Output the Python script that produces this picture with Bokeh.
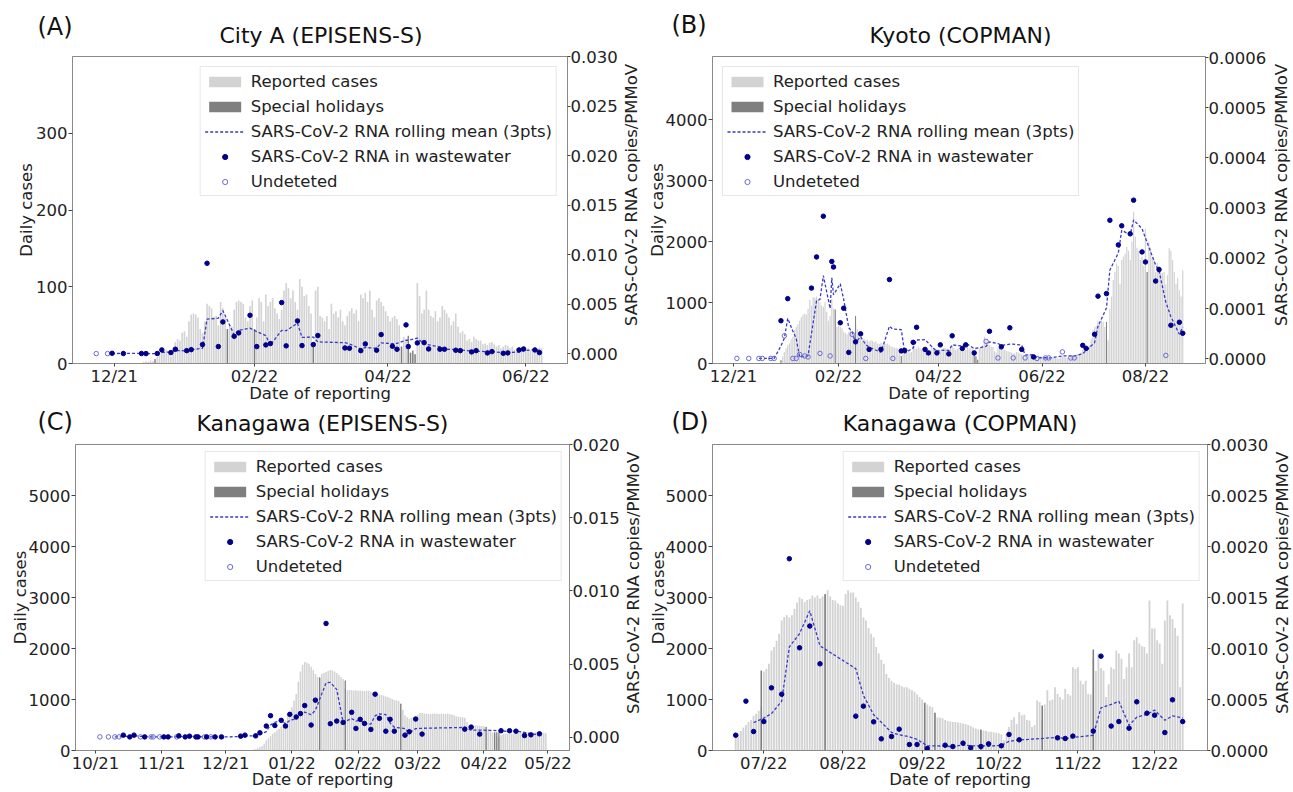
import pandas as pd
from math import pi
from bokeh.plotting import figure
from bokeh.models import (Range1d, LinearAxis, FixedTicker, PrintfTickFormatter,
                          DatetimeTickFormatter, Legend, LegendItem)
from bokeh.core.properties import value
from bokeh.layouts import row, column
from bokeh.embed import file_html
from bokeh.resources import INLINE

# ---------------------------------------------------------------- data
# (A) City A (EPISENS-S) ; RNA values in units of 1e-3
A_cases_start = "2021-12-14"
A_cases = [2, 3, 2, 4, 3, 2, 8,
           12, 15, 14, 18, 12, 9, 20,
           28, 32, 30, 40, 42, 35, 55,
           64, 65, 64, 60, 45, 40, 55,
           78, 75, 72, 60, 62, 50, 80,
           72, 60, 45, 50, 48, 70, 80,
           82, 80, 78, 60, 55, 75, 82,
           45, 60, 85, 80, 55, 90, 75,
           80, 85, 72, 65, 58, 70, 95,
           105, 98, 85, 95, 80, 70, 110,
           100, 88, 90, 75, 65, 23, 95,
           100, 62, 60, 55, 62, 45, 78,
           65, 68, 60, 70, 55, 50, 62,
           68, 72, 65, 70, 55, 90, 85,
           92, 80, 95, 70, 60, 82, 85,
           80, 75, 68, 62, 55, 60, 62,
           58, 50, 22, 35, 30, 25, 14,
           15, 12, 105, 88, 65, 70, 95,
           70, 62, 60, 68, 55, 60, 75,
           70, 65, 60, 50, 55, 65, 48,
           40, 42, 38, 30, 32, 28, 35,
           32, 30, 30, 25, 26, 24, 27,
           28, 25, 22, 24, 20, 22, 24,
           23, 20, 22, 18, 20, 21, 19,
           20, 18, 20, 17, 19, 20, 18,
           21, 20]
A_hol_dates = ["2021-12-19", "2022-01-20", "2022-02-01", "2022-02-27", "2022-04-07",
               "2022-04-10", "2022-04-11", "2022-04-12", "2022-04-13"]
A_hol_cases = [6, 45, 45, 23, 22, 36, 14, 17, 12]
A_det_dates = ["2021-11-30", "2021-12-05", "2021-12-13", "2021-12-15", "2021-12-20",
               "2021-12-22", "2021-12-26", "2021-12-28", "2022-01-02", "2022-01-04",
               "2022-01-09", "2022-01-11", "2022-01-16", "2022-01-18", "2022-01-23",
               "2022-01-25", "2022-01-30", "2022-02-02", "2022-02-06", "2022-02-08",
               "2022-02-13", "2022-02-15", "2022-02-20", "2022-02-22", "2022-02-27",
               "2022-03-01", "2022-03-13", "2022-03-15", "2022-03-20", "2022-03-22",
               "2022-03-27", "2022-03-29", "2022-04-03", "2022-04-05", "2022-04-09",
               "2022-04-10", "2022-04-14", "2022-04-17", "2022-04-19", "2022-04-24",
               "2022-04-26", "2022-05-01", "2022-05-03", "2022-05-08", "2022-05-10",
               "2022-05-15", "2022-05-17", "2022-05-22", "2022-05-24", "2022-05-29",
               "2022-05-31", "2022-06-05", "2022-06-07"]
A_det = [0.03, 0.01, 0.01, 0.00, 0.01, 0.37, 0.10, 0.44, 0.30, 0.40,
         0.91, 9.12, 0.71, 3.20, 1.75, 2.09, 3.87, 0.71, 0.88, 1.01,
         5.15, 0.78, 3.30, 0.81, 0.91, 1.82, 0.57, 0.54, 0.30, 0.98,
         0.34, 1.92, 0.74, 0.44, 2.90, 0.71, 1.08, 1.11, 0.47, 0.44,
         0.44, 0.34, 0.30, 0.17, 0.30, 0.07, 0.20, 0.03, 0.07, 0.37,
         0.47, 0.37, 0.10]
A_und_dates = ["2021-11-23", "2021-11-28"]
A_und = [0.0, 0.0]

# (B) Kyoto (COPMAN) ; RNA values in units of 1e-4
B_cases_start = "2021-12-29"
B_cases = [55, 120, 190, 250, 300, 330, 400,
           440, 550, 600, 650, 700, 760, 800,
           820, 800, 900, 1040, 950, 1090, 1080,
           1100, 1050, 1000, 950, 930, 1000, 850,
           700, 780, 1060, 900, 885, 600, 620,
           600, 580, 520, 500, 480, 520, 540,
           500, 460, 650, 560, 480, 420, 380,
           400, 380, 390, 360, 380, 370, 350,
           360, 330, 320, 340, 310, 330, 320,
           330, 300, 280, 270, 260, 250, 250,
           220, 125, 200, 190, 200, 190, 180,
           190, 300, 260, 240, 280, 250, 230,
           250, 220, 240, 230, 220, 270, 260,
           250, 240, 230, 210, 200, 260, 250,
           240, 230, 270, 300, 250, 220, 240,
           260, 230, 220, 250, 220, 270, 240,
           250, 230, 200, 120, 60, 250, 270,
           300, 440, 400, 350, 300, 280, 270,
           200, 180, 250, 270, 240, 230, 220,
           210, 200, 190, 180, 170, 165, 190,
           180, 170, 150, 140, 130, 160, 150,
           140, 130, 120, 110, 100, 130, 120,
           110, 100, 95, 90, 85, 110, 100,
           95, 90, 85, 80, 100, 120, 110,
           100, 95, 90, 110, 130, 140, 120,
           150, 160, 180, 220, 200, 250, 270,
           300, 400, 550, 600, 620, 700, 650,
           710, 680, 600, 500, 380, 900, 1100,
           1370, 1500, 1640, 1600, 1300, 1700, 1750,
           1800, 1910, 1850, 1700, 2000, 2490, 2080,
           1900, 1850, 1700, 1750, 1600, 2210, 1500,
           2000, 1900, 1750, 1700, 1500, 1650, 1600,
           1550, 1480, 1500, 1300, 1450, 1890, 1850,
           1700, 1500, 1310, 1400, 1200, 1100, 1530]
B_hol_dates = ["2021-12-29", "2022-01-30", "2022-02-11", "2022-03-10", "2022-04-22",
               "2022-04-23", "2022-04-24", "2022-07-09", "2022-08-02"]
B_hol_cases = [55, 885, 780, 125, 200, 120, 60, 680, 1500]
B_det_dates = ["2021-12-29", "2022-01-02", "2022-01-16", "2022-01-19", "2022-01-23",
               "2022-01-28", "2022-01-29", "2022-02-02", "2022-02-04", "2022-02-07",
               "2022-02-11", "2022-02-14", "2022-02-19", "2022-02-26", "2022-03-03",
               "2022-03-10", "2022-03-12", "2022-03-17", "2022-03-19", "2022-03-24",
               "2022-03-26", "2022-03-31", "2022-04-02", "2022-04-07", "2022-04-09",
               "2022-04-15", "2022-04-17", "2022-04-22", "2022-05-01", "2022-05-08",
               "2022-05-13", "2022-05-20", "2022-05-27", "2022-06-25", "2022-06-27",
               "2022-07-02", "2022-07-04", "2022-07-09", "2022-07-11", "2022-07-16",
               "2022-07-18", "2022-07-23", "2022-07-25", "2022-07-30", "2022-08-01",
               "2022-08-07", "2022-08-09", "2022-08-16", "2022-08-21", "2022-08-23"]
B_det = [0.76, 1.20, 1.41, 2.03, 2.84, 1.94, 1.83, 0.72, 1.01, 0.13,
         0.34, 0.50, 0.19, 0.19, 1.58, 0.16, 0.17, 0.33, 0.63, 0.19,
         0.12, 0.12, 0.28, 0.10, 0.46, 0.21, 0.28, 0.12, 0.55, 0.24,
         0.62, 0.19, 0.04, 0.27, 0.21, 0.49, 1.25, 1.30, 2.76, 2.27,
         2.65, 2.49, 3.16, 2.13, 1.93, 1.55, 1.78, 0.67, 0.73, 0.51]
B_und_dates = ["2021-12-03", "2021-12-10", "2021-12-16", "2021-12-18", "2021-12-23",
               "2021-12-25", "2021-12-31", "2022-01-05", "2022-01-07", "2022-01-09",
               "2022-01-12", "2022-01-14", "2022-01-21", "2022-01-27", "2022-02-09",
               "2022-02-17", "2022-03-05", "2022-04-29", "2022-05-06", "2022-05-15",
               "2022-05-22", "2022-05-29", "2022-06-03", "2022-06-05", "2022-06-13",
               "2022-06-18", "2022-06-20", "2022-08-13"]
B_und = [0.01, 0.01, 0.01, 0.01, 0.01, 0.01, 0.46, 0.01, 0.01, 0.09,
         0.06, 0.04, 0.11, 0.06, 0.49, 0.01, 0.01, 0.35, 0.02, 0.02,
         0.02, 0.01, 0.02, 0.02, 0.14, 0.02, 0.02, 0.07]

# (C) Kanagawa (EPISENS-S) ; RNA values in units of 1e-3
C_cases_start = "2021-12-12"
C_cases = [5, 10, 20, 30, 45, 65, 90,
           130, 200, 240, 290, 330, 360, 395,
           425, 470, 520, 590, 680, 760, 850,
           980, 1110, 1350, 1550, 1680, 1735, 1720,
           1700, 1640, 1580, 1500, 1440, 1430, 1500,
           1520, 1540, 1560, 1580, 1570, 1550, 1520,
           1480, 1440, 1400, 1210, 1180, 1185, 1180,
           1175, 1180, 1170, 1175, 1170, 1165, 1170,
           1170, 1150, 1140, 1130, 1120, 1100, 1090,
           1080, 1060, 1050, 1030, 1010, 990, 980,
           970, 917, 800, 690, 650, 620, 640,
           655, 660, 700, 735, 735, 725, 720,
           720, 715, 720, 725, 720, 715, 720,
           720, 715, 720, 710, 705, 690, 670,
           660, 655, 650, 640, 560, 490, 490,
           485, 490, 490, 485, 480, 470, 460,
           420, 380, 350, 330, 280, 260, 300,
           330, 335, 330, 325, 330, 335, 330,
           345, 355, 360, 360, 365, 360, 360,
           355, 360, 365, 360, 355, 350, 340]
C_hol_dates = ["2022-01-14", "2022-01-26", "2022-02-21", "2022-04-02", "2022-04-06",
               "2022-04-07", "2022-04-08"]
C_hol_cases = [1430, 1375, 917, 460, 360, 360, 360]
C_det_dates = ["2021-10-14", "2021-10-17", "2021-10-19", "2021-10-24", "2021-11-02",
               "2021-11-04", "2021-11-09", "2021-11-12", "2021-11-14", "2021-11-17",
               "2021-11-18", "2021-11-22", "2021-11-26", "2021-11-29", "2021-12-08",
               "2021-12-10", "2021-12-15", "2021-12-17", "2021-12-20", "2021-12-22",
               "2021-12-24", "2021-12-27", "2021-12-29", "2021-12-31", "2022-01-03",
               "2022-01-05", "2022-01-07", "2022-01-10", "2022-01-12", "2022-01-17",
               "2022-01-19", "2022-01-22", "2022-01-25", "2022-01-29", "2022-01-31",
               "2022-02-02", "2022-02-04", "2022-02-07", "2022-02-09", "2022-02-11",
               "2022-02-14", "2022-02-16", "2022-02-18", "2022-02-23", "2022-02-25",
               "2022-02-28", "2022-03-03", "2022-03-23", "2022-03-26", "2022-03-30",
               "2022-04-09", "2022-04-13", "2022-04-16", "2022-04-20", "2022-04-23",
               "2022-04-27"]
C_det = [0.14, 0.02, 0.14, 0.02, 0.02, 0.02, 0.09, 0.02, 0.07, 0.02,
         0.02, 0.02, 0.02, 0.02, 0.07, 0.14, 0.09, 0.30, 0.76, 1.47,
         0.80, 1.15, 0.76, 1.56, 1.38, 1.61, 2.16, 0.83, 2.53, 7.77,
         0.92, 1.10, 1.01, 1.70, 0.60, 1.22, 0.94, 0.53, 2.94, 1.29,
         0.41, 1.22, 0.41, 0.14, 0.37, 1.24, 0.21, 0.55, 0.69, 0.21,
         0.44, 0.44, 0.41, 0.11, 0.16, 0.23]
C_und_dates = ["2021-10-03", "2021-10-07", "2021-10-10", "2021-10-12", "2021-10-22",
               "2021-10-27", "2021-10-28", "2021-10-31", "2021-11-08", "2021-11-21",
               "2021-11-24"]
C_und = [0.02, 0.02, 0.02, 0.02, 0.02, 0.02, 0.02, 0.02, 0.02, 0.02, 0.02]

# (D) Kanagawa (COPMAN) ; RNA values in units of 1e-4
D_cases_start = "2022-06-20"
D_cases = [290, 330, 380, 450, 500, 560, 600,
           680, 720, 780, 850, 1550, 1600, 1700,
           1960, 2030, 2150, 2290, 2550, 2620, 2650,
           2610, 2650, 2780, 2900, 3000, 2970, 2910,
           2950, 2970, 3040, 3000, 3040, 2980, 3020,
           3050, 3140, 3020, 2950, 2940, 2880, 2850,
           2840, 3070, 3140, 3100, 3100, 3000, 2910,
           2800, 2610, 2550, 2400, 2290, 2220, 2030,
           1900, 1780, 1700, 1500, 1420, 1370, 1330,
           1300, 1290, 1260, 1240, 1240, 1210, 1180,
           1150, 1100, 1050, 1000, 935, 900, 870,
           850, 740, 650, 640, 630, 600, 580,
           570, 560, 560, 550, 540, 530, 520,
           500, 480, 450, 430, 410, 400, 390,
           380, 370, 370, 360, 350, 340, 320,
           200, 330, 460, 600, 650, 520, 750,
           690, 700, 600, 590, 460, 500, 980,
           950, 600, 900, 1180, 980, 1000, 1240,
           1110, 1050, 1000, 1210, 1110, 1080, 1630,
           1600, 1630, 1370, 1300, 1370, 1110, 1100,
           1800, 1560, 1900, 1620, 1570, 1050, 1300,
           1630, 1600, 1960, 1900, 1800, 1400, 1630,
           1900, 1630, 2160, 2220, 2100, 2050, 2030,
           1900, 2940, 2390, 2390, 2160, 2100, 1700,
           2550, 2940, 2650, 2580, 2400, 2250, 1240,
           2880]
D_hol_dates = ["2022-06-30", "2022-07-25", "2022-09-02", "2022-09-06", "2022-09-24",
               "2022-10-18", "2022-11-07"]
D_hol_cases = [1570, 3070, 935, 740, 410, 880, 1980]
D_det_dates = ["2022-06-20", "2022-06-24", "2022-06-27", "2022-07-01", "2022-07-04",
               "2022-07-08", "2022-07-11", "2022-07-15", "2022-07-19", "2022-07-23",
               "2022-08-06", "2022-08-09", "2022-08-13", "2022-08-16", "2022-08-20",
               "2022-08-23", "2022-08-27", "2022-08-30", "2022-09-03", "2022-09-10",
               "2022-09-13", "2022-09-17", "2022-09-20", "2022-09-24", "2022-09-27",
               "2022-10-02", "2022-10-05", "2022-10-09", "2022-10-24", "2022-10-27",
               "2022-10-30", "2022-11-07", "2022-11-10", "2022-11-14", "2022-11-17",
               "2022-11-21", "2022-11-24", "2022-11-28", "2022-12-01", "2022-12-05",
               "2022-12-08", "2022-12-12"]
D_det = [1.50, 4.84, 1.86, 2.84, 6.14, 5.52, 18.8, 10.07, 12.2, 8.5,
         3.37, 4.35, 2.81, 1.14, 1.37, 2.09, 0.59, 0.59, 0.20, 0.52,
         0.39, 0.72, 0.26, 0.39, 0.65, 0.46, 1.57, 1.05, 1.24, 1.18,
         1.41, 1.90, 9.25, 2.39, 2.84, 2.19, 4.77, 3.66, 3.46, 1.76,
         4.97, 2.84]
D_und_dates = []
D_und = []

RIGHT_LABEL = "SARS-CoV-2 RNA copies/PMMoV"

# ---------------------------------------------------------------- helpers
FONT = "DejaVu Sans"
FS = "16.5px"
DAY = 86400000.0
NAN = float("nan")


def ms(s):
    return pd.Timestamp(s).value / 1e6


def blank(width, height):
    f = figure(width=width, height=height, x_range=Range1d(0, width), y_range=Range1d(0, height),
               x_axis_location=None, y_axis_location=None, min_border=0,
               output_backend="svg", toolbar_location=None)
    f.title.visible = False
    f.outline_line_color = None
    f.xgrid.visible = False
    f.ygrid.visible = False
    return f


def header(width, height, letter, lx, ly_top, title, tx):
    h = blank(width, height)
    h.text(x=[lx], y=[height - ly_top], text=[letter], text_font=value(FONT),
           text_font_size=value("24px"), text_color="#111111",
           text_align="left", text_baseline="middle")
    h.text(x=[tx], y=[0.5], text=[title], text_font=value(FONT),
           text_font_size=value("22px"), text_color="#111111",
           text_align="center", text_baseline="bottom")
    return h


def side_label(width, height, x, y):
    f = blank(width, height)
    f.text(x=[x], y=[y], text=[RIGHT_LABEL], angle=pi / 2, text_font=value(FONT),
           text_font_size=value(FS), text_color="#222222",
           text_align="center", text_baseline="middle")
    return f


def build(spec, cases_start, cases, hol_dates, hol_cases, det_dates, det, und_dates, und, unit):
    p = figure(width=spec["w"], height=spec["h"], x_axis_type="datetime",
               x_range=Range1d(ms(spec["x0"]), ms(spec["x1"])),
               y_range=Range1d(0, spec["ytop"]),
               min_border_left=spec["bl"], min_border_right=spec["br"],
               min_border_top=spec["bt"], min_border_bottom=spec["bb"],
               output_backend="svg", toolbar_location=None)
    p.title.visible = False
    p.extra_y_ranges = {"rna": Range1d(spec["r0"], spec["r1"])}
    p.xgrid.visible = False
    p.ygrid.visible = False
    p.outline_line_color = "#8a8a8a"

    bx = [ms(d) for d in pd.date_range(cases_start, periods=len(cases), freq="D")]
    r_bar = p.vbar(x=bx, top=cases, width=0.72 * DAY, fill_color="#d3d3d3", line_color=None)
    r_hol = p.vbar(x=[ms(d) for d in hol_dates], top=hol_cases, width=0.6 * DAY,
                   fill_color="#7f7f7f", line_color=None)

    df = pd.DataFrame({"d": pd.to_datetime(list(det_dates) + list(und_dates)),
                       "v": [v * unit for v in list(det) + list(und)]}).sort_values("d")
    df["roll"] = df["v"].rolling(3).mean()
    df = df.dropna()
    r_line = p.line(x=[ms(d) for d in df["d"]], y=list(df["roll"]), y_range_name="rna",
                    line_color="#3a3ac8", line_dash="3 2", line_width=1.3)
    ux = [ms(d) for d in und_dates] if und_dates else [NAN]
    uy = [v * unit for v in und] if und else [NAN]
    r_und = p.scatter(x=ux, y=uy, y_range_name="rna", marker="circle", size=4.5,
                      fill_color=None, line_color="#6b6bd6", line_width=1)
    r_det = p.scatter(x=[ms(d) for d in det_dates], y=[v * unit for v in det],
                      y_range_name="rna", marker="circle", size=4.5, fill_color="#00008b",
                      line_color="#00008b")

    xax = p.below[0]
    yax = p.left[0]
    xax.ticker = FixedTicker(ticks=[ms(t) for t in spec["xticks"]])
    xax.formatter = DatetimeTickFormatter(days="%m/%y", months="%m/%y", years="%m/%y",
                                          hours="%m/%y", hourmin="%m/%y")
    xax.axis_label = "Date of reporting"
    yax.ticker = FixedTicker(ticks=spec["lticks"])
    yax.axis_label = "Daily cases"
    rax = LinearAxis(y_range_name="rna", ticker=FixedTicker(ticks=spec["rticks"]),
                     formatter=PrintfTickFormatter(format=spec["rfmt"]))
    p.add_layout(rax, "right")

    for ax in (xax, yax, rax):
        ax.major_label_text_font = FONT
        ax.major_label_text_font_size = FS
        ax.major_label_text_color = "#222222"
        ax.axis_label_text_font = FONT
        ax.axis_label_text_font_size = FS
        ax.axis_label_text_font_style = "normal"
        ax.axis_label_text_color = "#222222"
        ax.minor_tick_line_color = None
        ax.major_tick_in = 0
        ax.major_tick_out = 4
        ax.major_tick_line_color = "#444444"
        ax.axis_line_color = "#8a8a8a"
        ax.major_label_standoff = 1
    xax.major_tick_out = 3
    xax.major_label_standoff = 0
    xax.axis_label_standoff = spec["sx"]
    yax.axis_label_standoff = spec["sl"]
    rax.major_tick_out = 3
    rax.major_label_standoff = 0

    legend = Legend(items=[
        LegendItem(label="Reported cases", renderers=[r_bar]),
        LegendItem(label="Special holidays", renderers=[r_hol]),
        LegendItem(label="SARS-CoV-2 RNA rolling mean (3pts)", renderers=[r_line]),
        LegendItem(label="SARS-CoV-2 RNA in wastewater", renderers=[r_det]),
        LegendItem(label="Undeteted", renderers=[r_und]),
    ], location=spec["legloc"], margin=spec["legm"], padding=4, spacing=5,
        label_text_font=FONT, label_text_font_size=FS, label_text_color="#222222",
        glyph_width=40, glyph_height=13, label_height=20, label_standoff=6,
        border_line_color="#d0d0d0", border_line_width=1,
        background_fill_color="white", background_fill_alpha=0.85)
    p.add_layout(legend)
    return p


specA = dict(w=620, h=358, bl=72, br=51, bt=8, bb=43, sx=-5, sl=-3,
             x0="2021-11-12 12:00", x1="2022-06-19 10:00", ytop=400, r0=-0.001, r1=0.030,
             xticks=["2021-12-01", "2022-02-01", "2022-04-01", "2022-06-01"],
             lticks=[0, 100, 200, 300], rticks=[0, 0.005, 0.010, 0.015, 0.020, 0.025, 0.030],
             rfmt="%.3f", legloc="top_right", legm=10)
specB = dict(w=627, h=358, bl=70, br=61, bt=8, bb=43, sx=-5, sl=-4,
             x0="2021-11-18 15:00", x1="2022-09-05 10:00", ytop=5037, r0=-0.0000091, r1=0.000602,
             xticks=["2021-12-01", "2022-02-01", "2022-04-01", "2022-06-01", "2022-08-01"],
             lticks=[0, 1000, 2000, 3000, 4000],
             rticks=[0, 0.0001, 0.0002, 0.0003, 0.0004, 0.0005, 0.0006],
             rfmt="%.4f", legloc="top_left", legm=10)
specC = dict(w=622, h=356, bl=75, br=53, bt=8, bb=42, sx=-6, sl=-4,
             x0="2021-09-21 14:00", x1="2022-05-11 02:00", ytop=6000, r0=-0.00091, r1=0.020,
             xticks=["2021-10-01", "2021-11-01", "2021-12-01", "2022-01-01", "2022-02-01",
                     "2022-03-01", "2022-04-01", "2022-05-01"],
             lticks=[0, 1000, 2000, 3000, 4000, 5000],
             rticks=[0, 0.005, 0.010, 0.015, 0.020],
             rfmt="%.3f", legloc="top_right", legm=7)
specD = dict(w=627, h=356, bl=68, br=64, bt=8, bb=42, sx=-6, sl=-5,
             x0="2022-06-10 22:00", x1="2022-12-21 17:00", ytop=6000, r0=0.0, r1=0.0030,
             xticks=["2022-07-01", "2022-08-01", "2022-09-01", "2022-10-01", "2022-11-01",
                     "2022-12-01"],
             lticks=[0, 1000, 2000, 3000, 4000, 5000],
             rticks=[0, 0.0005, 0.0010, 0.0015, 0.0020, 0.0025, 0.0030],
             rfmt="%.4f", legloc="top_right", legm=7)

hA = header(642, 48, "(A)", 37, 26, "City A (EPISENS-S)", 320.5)
hB = header(651, 48, "(B)", 29, 24, "Kyoto (COPMAN)", 318)
hC = header(644, 30, "(C)", 37, 15, "Kanagawa (EPISENS-S)", 322)
hD = header(649, 30, "(D)", 27, 15, "Kanagawa (COPMAN)", 315.5)

pA = build(specA, A_cases_start, A_cases, A_hol_dates, A_hol_cases, A_det_dates, A_det,
           A_und_dates, A_und, 1e-3)
pB = build(specB, B_cases_start, B_cases, B_hol_dates, B_hol_cases, B_det_dates, B_det,
           B_und_dates, B_und, 1e-4)
pC = build(specC, C_cases_start, C_cases, C_hol_dates, C_hol_cases, C_det_dates, C_det,
           C_und_dates, C_und, 1e-3)
pD = build(specD, D_cases_start, D_cases, D_hol_dates, D_hol_cases, D_det_dates, D_det,
           D_und_dates, D_und, 1e-4)

rA = side_label(22, 358, 11, 196.5)
rB = side_label(24, 358, 12, 196.5)
rC = side_label(22, 356, 11, 195)
rD = side_label(22, 356, 11, 195)

layout = column(row(hA, hB), row(pA, rA, pB, rB), row(hC, hD), row(pC, rC, pD, rD))
open("out.html", "w").write(file_html(layout, INLINE))
